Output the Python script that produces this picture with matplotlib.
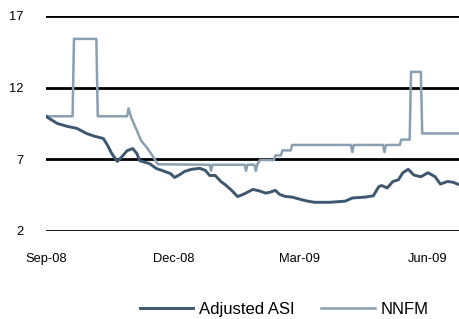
"""Adjusted ASI vs NNFM line chart."""

import matplotlib

matplotlib.use("Agg")
import matplotlib.dates as mdates
import matplotlib.pyplot as plt
import pandas as pd

# Data.
asi_dates = [
    "2008-09-01", "2008-09-02", "2008-09-09", "2008-09-16", "2008-09-23",
    "2008-09-30", "2008-10-06", "2008-10-12", "2008-10-15", "2008-10-18",
    "2008-10-22", "2008-10-25", "2008-10-29", "2008-11-02", "2008-11-05",
    "2008-11-07", "2008-11-14", "2008-11-19", "2008-11-23", "2008-11-29",
    "2008-12-02", "2008-12-06", "2008-12-09", "2008-12-14", "2008-12-20",
    "2008-12-24", "2008-12-27", "2008-12-31", "2009-01-04", "2009-01-07",
    "2009-01-11", "2009-01-14", "2009-01-16", "2009-01-20", "2009-01-24",
    "2009-01-27", "2009-02-01", "2009-02-05", "2009-02-08", "2009-02-12",
    "2009-02-15", "2009-02-19", "2009-02-24", "2009-03-02", "2009-03-07",
    "2009-03-12", "2009-03-23", "2009-04-03", "2009-04-08", "2009-04-17",
    "2009-04-23", "2009-04-27", "2009-04-29", "2009-05-03", "2009-05-07",
    "2009-05-11", "2009-05-14", "2009-05-18", "2009-05-22", "2009-05-27",
    "2009-06-01", "2009-06-06", "2009-06-10", "2009-06-15", "2009-06-19",
    "2009-06-24",
]
asi_values = [
    10.0, 9.93, 9.5, 9.3, 9.16,
    8.8, 8.6, 8.45, 7.98, 7.4,
    6.85, 7.15, 7.6, 7.75, 7.4,
    6.9, 6.7, 6.35, 6.22, 6.0,
    5.73, 5.95, 6.15, 6.3, 6.37,
    6.22, 5.87, 5.87, 5.45, 5.24,
    4.9, 4.6, 4.4, 4.55, 4.75,
    4.9, 4.78, 4.64, 4.7, 4.83,
    4.55, 4.41, 4.36, 4.2, 4.08,
    4.0, 4.0, 4.08, 4.3, 4.36,
    4.45, 5.1, 5.17, 5.0, 5.45,
    5.57, 6.05, 6.3, 5.9, 5.78,
    6.06, 5.8, 5.27, 5.45, 5.4,
    5.2,
]

nnfm_dates = [
    "2008-09-01", "2008-09-20", "2008-09-21", "2008-10-07", "2008-10-08",
    "2008-10-29", "2008-10-30", "2008-11-01", "2008-11-05", "2008-11-08",
    "2008-11-12", "2008-11-16", "2008-11-20", "2008-12-27", "2008-12-28",
    "2008-12-29", "2009-01-21", "2009-01-22", "2009-01-23", "2009-01-28",
    "2009-01-29", "2009-01-30", "2009-02-01", "2009-02-11", "2009-02-12",
    "2009-02-16", "2009-02-17", "2009-02-23", "2009-02-24", "2009-04-07",
    "2009-04-08", "2009-04-09", "2009-04-30", "2009-05-01", "2009-05-02",
    "2009-05-12", "2009-05-13", "2009-05-19", "2009-05-20", "2009-05-27",
    "2009-05-28", "2009-06-24",
]
nnfm_values = [
    10.0, 10.0, 15.4, 15.4, 10.0,
    10.0, 10.55, 9.9, 9.0, 8.3,
    7.83, 7.27, 6.65, 6.62, 6.2,
    6.62, 6.62, 6.2, 6.62, 6.62,
    6.2, 6.62, 6.95, 6.95, 7.27,
    7.27, 7.62, 7.62, 8.0, 8.0,
    7.5, 8.0, 8.0, 7.5, 8.0,
    8.0, 8.37, 8.37, 13.1, 13.1,
    8.8, 8.8,
]

y_ticks = [2, 7, 12, 17]
x_ticks = ["2008-09-01", "2008-12-01", "2009-03-01", "2009-06-01"]

plt.rcParams["font.family"] = ["Liberation Sans", "DejaVu Sans"]

fig = plt.figure(figsize=(4.6, 3.19), dpi=100)
ax = fig.add_axes([0.1, 0.276, 0.9, 0.674])

ax.plot(pd.to_datetime(asi_dates), asi_values, color="#3E576E",
        linewidth=2.1, label="Adjusted ASI", zorder=3)
ax.plot(pd.to_datetime(nnfm_dates), nnfm_values, color="#8AA0B1",
        linewidth=1.8, label="NNFM", zorder=2)

ax.set_ylim(2, 17)
ax.set_yticks(y_ticks)
ax.set_xlim(pd.Timestamp("2008-09-01"), pd.Timestamp("2009-06-24"))
ax.set_xticks(pd.to_datetime(x_ticks))
ax.xaxis.set_major_formatter(mdates.DateFormatter("%b-%y"))

ax.yaxis.grid(True, color="black", linewidth=2.0)
ax.set_axisbelow(True)
for side in ax.spines.values():
    side.set_visible(False)
ax.tick_params(axis="both", length=0, labelsize=9.3, colors="black")
ax.tick_params(axis="y", pad=16)
ax.tick_params(axis="x", pad=16)

# legend sits at the very bottom edge; nudged up just enough to stay whole
fig.legend(
    loc="center left",
    bbox_to_anchor=(140 / 460, 1 - 309.5 / 319),
    ncol=2,
    frameon=False,
    fontsize=12,
    handlelength=3.2,
    handletextpad=0.35,
    columnspacing=1.6,
    borderpad=0,
    borderaxespad=0,
)

fig.savefig("out.png", dpi=100)
